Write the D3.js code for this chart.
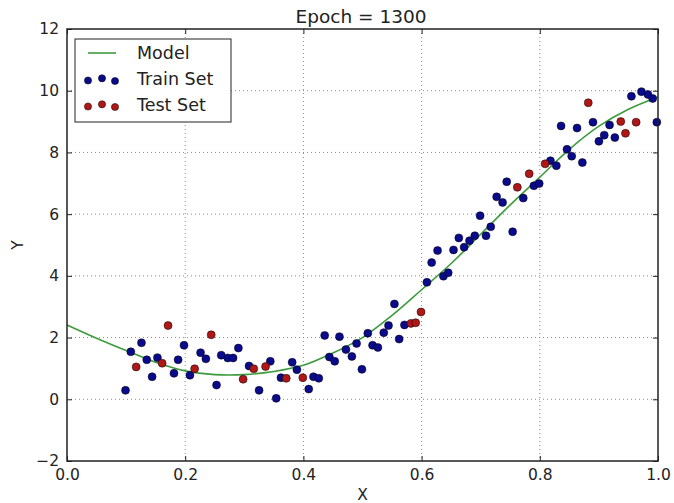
<!DOCTYPE html>
<html><head><meta charset="utf-8">
<script src="https://cdn.jsdelivr.net/npm/d3@7"></script>
<style>html,body{margin:0;padding:0;background:#fff;} text{font-family:"DejaVu Sans",sans-serif;fill:#222;}</style>
</head><body><svg id="c" width="674" height="503"></svg>
<script>
const title = "Epoch = 1300";
const xTicks = [0.0, 0.2, 0.4, 0.6, 0.8, 1.0];
const yTicks = [-2, 0, 2, 4, 6, 8, 10, 12];
const modelX = [0, 0.05, 0.1, 0.15, 0.2, 0.25, 0.3, 0.35, 0.4, 0.45, 0.5, 0.55, 0.6, 0.65, 0.7, 0.75, 0.8, 0.85, 0.9, 0.95, 1.0];
const modelY = [2.41, 1.98, 1.58, 1.2, 0.92, 0.8, 0.8, 0.9, 1.1, 1.5, 2.0, 2.72, 3.55, 4.4, 5.35, 6.3, 7.2, 8.1, 8.85, 9.4, 9.8];
const trainX = [0.099,0.108,0.126,0.135,0.144,0.153,0.181,0.188,0.198,0.208,0.226,0.235,0.253,0.261,0.272,0.281,0.290,0.308,0.325,0.344,0.354,0.362,0.381,0.389,0.409,0.417,0.426,0.436,0.444,0.453,0.461,0.472,0.482,0.490,0.499,0.509,0.517,0.526,0.536,0.544,0.554,0.562,0.571,0.609,0.617,0.627,0.637,0.645,0.654,0.663,0.672,0.681,0.690,0.699,0.709,0.717,0.727,0.737,0.744,0.754,0.772,0.790,0.799,0.818,0.828,0.836,0.846,0.854,0.863,0.872,0.890,0.900,0.909,0.918,0.927,0.955,0.972,0.983,0.991,0.998];
const trainY = [0.29,1.54,1.83,1.28,0.73,1.35,0.84,1.28,1.75,0.78,1.51,1.31,0.46,1.43,1.34,1.34,1.66,1.08,0.29,1.23,0.03,0.70,1.20,0.96,0.33,0.73,0.68,2.07,1.37,1.23,2.03,1.61,1.39,1.81,0.97,2.14,1.75,1.68,2.16,2.39,3.09,1.95,2.41,3.79,4.43,4.82,3.99,4.10,4.84,5.23,4.93,5.14,5.30,5.95,5.30,5.59,6.56,6.38,7.05,5.43,6.52,6.92,6.99,7.73,7.57,8.86,8.10,7.88,8.79,7.67,8.98,8.36,8.56,8.89,8.48,9.82,9.97,9.88,9.75,8.98];
const testX = [0.117,0.161,0.171,0.216,0.244,0.298,0.316,0.336,0.371,0.399,0.582,0.590,0.599,0.762,0.782,0.809,0.882,0.937,0.945,0.963];
const testY = [1.05,1.17,2.39,0.99,2.09,0.65,0.99,1.06,0.68,0.70,2.46,2.48,2.83,6.87,7.31,7.63,9.61,9.00,8.62,8.98];
const legendLabels = ["Model", "Train Set", "Test Set"];

const svg = d3.select("#c");
const m = {l:67, t:29, r:658, b:461};
const x = d3.scaleLinear().domain([0,1]).range([m.l, m.r]);
const y = d3.scaleLinear().domain([-2,12]).range([m.b, m.t]);
const blue = "#0a0a8c", red = "#b01818", green = "#3d9b3d";

// grid
const g = svg.append("g");
g.selectAll(".gx").data(xTicks.slice(1,-1)).join("line")
  .attr("x1", d=>x(d)).attr("x2", d=>x(d)).attr("y1", m.t).attr("y2", m.b)
  .attr("stroke", "#8a8a8a").attr("stroke-width", 1).attr("stroke-dasharray", "1,3");
g.selectAll(".gy").data(yTicks.slice(1,-1)).join("line")
  .attr("y1", d=>y(d)).attr("y2", d=>y(d)).attr("x1", m.l).attr("x2", m.r)
  .attr("stroke", "#8a8a8a").attr("stroke-width", 1).attr("stroke-dasharray", "1,3");

// model line
const line = d3.line().x(d=>x(d[0])).y(d=>y(d[1])).curve(d3.curveCatmullRom);
svg.append("path").datum(modelX.map((v,i)=>[v, modelY[i]]))
  .attr("d", line).attr("fill","none").attr("stroke", green).attr("stroke-width", 1.6);

// points
svg.append("g").selectAll("circle").data(trainX.map((v,i)=>[v, trainY[i]])).join("circle")
  .attr("cx", d=>x(d[0])).attr("cy", d=>y(d[1])).attr("r", 4)
  .attr("fill", blue).attr("stroke", "#000").attr("stroke-width", 0.5);
svg.append("g").selectAll("circle").data(testX.map((v,i)=>[v, testY[i]])).join("circle")
  .attr("cx", d=>x(d[0])).attr("cy", d=>y(d[1])).attr("r", 4)
  .attr("fill", red).attr("stroke", "#000").attr("stroke-width", 0.5);

// axes (inside ticks, all four sides)
const axB = d3.axisBottom(x).tickValues(xTicks).tickSizeInner(-5).tickSizeOuter(0).tickPadding(8).tickFormat(d3.format(".1f"));
const axT = d3.axisTop(x).tickValues(xTicks).tickSizeInner(-5).tickSizeOuter(0).tickFormat("");
const axL = d3.axisLeft(y).tickValues(yTicks).tickSizeInner(-5).tickSizeOuter(0).tickPadding(8).tickFormat(d=>d<0?"\u2212"+Math.abs(d):d);
const axR = d3.axisRight(y).tickValues(yTicks).tickSizeInner(-5).tickSizeOuter(0).tickFormat("");
function style(sel){
  sel.select(".domain").remove();
  sel.selectAll(".tick line").attr("stroke","#222").attr("stroke-width",1);
  sel.selectAll(".tick text").attr("font-size",15.5).attr("font-family","DejaVu Sans").attr("fill","#222");
}
svg.append("g").attr("transform",`translate(0,${m.b})`).call(axB).call(style);
svg.append("g").attr("transform",`translate(0,${m.t})`).call(axT).call(style);
svg.append("g").attr("transform",`translate(${m.l},0)`).call(axL).call(style);
svg.append("g").attr("transform",`translate(${m.r},0)`).call(axR).call(style);
svg.append("rect").attr("x",m.l).attr("y",m.t).attr("width",m.r-m.l).attr("height",m.b-m.t)
  .attr("fill","none").attr("stroke","#222").attr("stroke-width",1.5);

// labels
svg.append("text").attr("x",361).attr("y",23).attr("text-anchor","middle").attr("font-size",18.5).text(title);
svg.append("text").attr("x",(m.l+m.r)/2).attr("y",500).attr("text-anchor","middle").attr("font-size",15.5).text("X");
svg.append("text").attr("transform",`translate(23,${(m.t+m.b)/2}) rotate(-90)`).attr("text-anchor","middle").attr("font-size",15.5).text("Y");

// legend
const lg = svg.append("g");
lg.append("rect").attr("x",75).attr("y",39).attr("width",156).attr("height",83)
  .attr("fill","#fff").attr("stroke","#222").attr("stroke-width",1);
lg.append("line").attr("x1",88).attr("x2",116).attr("y1",53).attr("y2",53).attr("stroke",green).attr("stroke-width",1.6);
const offs = [[88,1],[102,-1.2],[115,1.5]];
[[blue,79.5],[red,105.5]].forEach(([c,cy])=>{
  offs.forEach(([cx,dy])=>{
    lg.append("circle").attr("cx",cx).attr("cy",cy+dy).attr("r",3.6).attr("fill",c).attr("stroke","#000").attr("stroke-width",0.5);
  });
});
legendLabels.forEach((t,i)=>{
  lg.append("text").attr("x",137).attr("y",53+26*i).attr("dy","0.36em").attr("font-size",17.5).text(t);
});
</script></body></html>
